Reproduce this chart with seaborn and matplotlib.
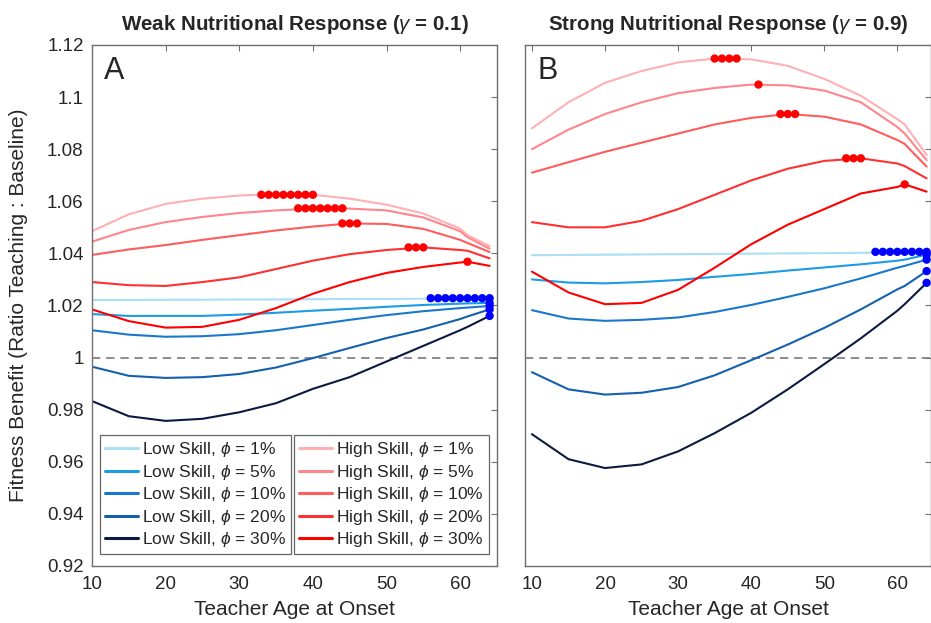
import numpy as np
import pandas as pd
import seaborn as sns
import matplotlib
matplotlib.use("Agg")
import matplotlib.pyplot as plt
from matplotlib.ticker import FuncFormatter

# teacher age at onset (common grid for every curve)
age = [10, 15, 20, 25, 30, 35, 40, 45, 50, 55, 60, 61, 64]

series_names = ["Low Skill, $\\phi$ = 1%", "Low Skill, $\\phi$ = 5%", "Low Skill, $\\phi$ = 10%",
                "Low Skill, $\\phi$ = 20%", "Low Skill, $\\phi$ = 30%",
                "High Skill, $\\phi$ = 1%", "High Skill, $\\phi$ = 5%", "High Skill, $\\phi$ = 10%",
                "High Skill, $\\phi$ = 20%", "High Skill, $\\phi$ = 30%"]

# panel A, weak nutritional response (gamma = 0.1)
weak_low1 = [1.0221, 1.0221, 1.0222, 1.0222, 1.0223, 1.0223, 1.0224, 1.0225, 1.0225, 1.0226, 1.0227, 1.0227, 1.0228]
weak_low5 = [1.0167, 1.0160, 1.0160, 1.0160, 1.0165, 1.0172, 1.0180, 1.0187, 1.0195, 1.0202, 1.0207, 1.0208, 1.0210]
weak_low10 = [1.0105, 1.0088, 1.0080, 1.0082, 1.0090, 1.0105, 1.0125, 1.0145, 1.0163, 1.0178, 1.0190, 1.0192, 1.0198]
weak_low20 = [0.9965, 0.9930, 0.9922, 0.9925, 0.9937, 0.9962, 0.9998, 1.0037, 1.0075, 1.0108, 1.0148, 1.0158, 1.0185]
weak_low30 = [0.9833, 0.9775, 0.9757, 0.9765, 0.9790, 0.9825, 0.9880, 0.9925, 0.9985, 1.0045, 1.0105, 1.0118, 1.0160]
weak_high1 = [1.0485, 1.0550, 1.0590, 1.0610, 1.0622, 1.0628, 1.0625, 1.0610, 1.0587, 1.0553, 1.0495, 1.0470, 1.0428]
weak_high5 = [1.0445, 1.0490, 1.0520, 1.0540, 1.0555, 1.0565, 1.0572, 1.0572, 1.0565, 1.0538, 1.0485, 1.0462, 1.0418]
weak_high10 = [1.0394, 1.0415, 1.0432, 1.0452, 1.0470, 1.0488, 1.0503, 1.0515, 1.0513, 1.0494, 1.0452, 1.0440, 1.0405]
weak_high20 = [1.0290, 1.0278, 1.0275, 1.0290, 1.0308, 1.0340, 1.0372, 1.0397, 1.0413, 1.0423, 1.0413, 1.0410, 1.0381]
weak_high30 = [1.0185, 1.0140, 1.0115, 1.0118, 1.0145, 1.0190, 1.0245, 1.0290, 1.0325, 1.0348, 1.0365, 1.0368, 1.0352]

# panel B, strong nutritional response (gamma = 0.9)
strong_low1 = [1.0393, 1.0394, 1.0395, 1.0396, 1.0397, 1.0398, 1.0399, 1.0400, 1.0401, 1.0402, 1.0404, 1.0404, 1.0406]
strong_low5 = [1.0300, 1.0288, 1.0285, 1.0290, 1.0298, 1.0310, 1.0321, 1.0334, 1.0346, 1.0358, 1.0372, 1.0376, 1.0395]
strong_low10 = [1.0182, 1.0150, 1.0141, 1.0145, 1.0154, 1.0175, 1.0202, 1.0233, 1.0266, 1.0304, 1.0345, 1.0352, 1.0376]
strong_low20 = [0.9944, 0.9878, 0.9858, 0.9865, 0.9887, 0.9932, 0.9990, 1.0050, 1.0114, 1.0185, 1.0262, 1.0275, 1.0332]
strong_low30 = [0.9706, 0.9610, 0.9576, 0.9590, 0.9640, 0.9710, 0.9788, 0.9878, 0.9975, 1.0074, 1.0180, 1.0205, 1.0287]
strong_high1 = [1.0880, 1.0980, 1.1055, 1.1100, 1.1133, 1.1148, 1.1145, 1.1120, 1.1070, 1.1005, 1.0915, 1.0895, 1.0778]
strong_high5 = [1.0800, 1.0875, 1.0935, 1.0980, 1.1015, 1.1035, 1.1048, 1.1045, 1.1025, 1.0980, 1.0885, 1.0860, 1.0758]
strong_high10 = [1.0710, 1.0750, 1.0790, 1.0825, 1.0860, 1.0895, 1.0920, 1.0935, 1.0925, 1.0895, 1.0835, 1.0820, 1.0733]
strong_high20 = [1.0520, 1.0500, 1.0500, 1.0525, 1.0570, 1.0625, 1.0680, 1.0725, 1.0755, 1.0765, 1.0745, 1.0735, 1.0688]
strong_high30 = [1.0330, 1.0250, 1.0205, 1.0210, 1.0260, 1.0345, 1.0435, 1.0510, 1.0570, 1.0630, 1.0655, 1.0665, 1.0637]

# optimal onset ages (the dots) and the benefit there
weak_opt_ages = [list(range(56, 65)), [64], [64], [64], [64],
                 list(range(33, 41)), list(range(38, 45)), [44, 45, 46], [53, 54, 55], [61]]
weak_opt_vals = [1.0228, 1.0210, 1.0198, 1.0185, 1.0160, 1.0625, 1.0573, 1.0515, 1.0423, 1.0368]
strong_opt_ages = [list(range(57, 65)), [64], [64], [64], [64],
                   [35, 36, 37, 38], [41], [44, 45, 46], [53, 54, 55], [61]]
strong_opt_vals = [1.0406, 1.0395, 1.0376, 1.0332, 1.0287, 1.1148, 1.1048, 1.0935, 1.0765, 1.0665]

yticks = [0.92, 0.94, 0.96, 0.98, 1.00, 1.02, 1.04, 1.06, 1.08, 1.10, 1.12]
xticks = [10, 20, 30, 40, 50, 60]

colors = ["#aadff6", "#1c9be6", "#1a78cc", "#1560ad", "#0b1a40",
          "#ffb0b5", "#ff858c", "#ff5c5c", "#ff3030", "#ff0000"]

weak = [weak_low1, weak_low5, weak_low10, weak_low20, weak_low30,
        weak_high1, weak_high5, weak_high10, weak_high20, weak_high30]
strong = [strong_low1, strong_low5, strong_low10, strong_low20, strong_low30,
          strong_high1, strong_high5, strong_high10, strong_high20, strong_high30]

rows = []
dots = []
for panel, curves, opt_a, opt_v in [("A", weak, weak_opt_ages, weak_opt_vals),
                                    ("B", strong, strong_opt_ages, strong_opt_vals)]:
    for name, vals, oa, ov in zip(series_names, curves, opt_a, opt_v):
        for a, v in zip(age, vals):
            rows.append((panel, name, a, v))
        for a in oa:
            dots.append((panel, name, a, ov))
df = pd.DataFrame(rows, columns=["panel", "series", "age", "benefit"])
dots_df = pd.DataFrame(dots, columns=["panel", "series", "age", "benefit"])
dots_df["skill"] = np.where(dots_df["series"].str.startswith("Low"), "low", "high")

sns.set_theme(style="white")
plt.rcParams["font.family"] = ["Liberation Sans", "DejaVu Sans"]
plt.rcParams["mathtext.fontset"] = "custom"
plt.rcParams["mathtext.rm"] = "Liberation Sans"
plt.rcParams["mathtext.it"] = "Liberation Sans:italic"

fig = plt.figure(figsize=(9.31, 6.23), dpi=100)
ax_a = fig.add_axes([0.0988, 0.0915, 0.435, 0.8363])
ax_b = fig.add_axes([0.5639, 0.0915, 0.4361, 0.8363])

titles = ["Weak Nutritional Response ($\\gamma$ = 0.1)", "Strong Nutritional Response ($\\gamma$ = 0.9)"]
palette = dict(zip(series_names, colors))

for ax, panel, title in [(ax_a, "A", titles[0]), (ax_b, "B", titles[1])]:
    ax.axhline(1.0, color="#7a7a7a", lw=1.2, ls=(0, (5, 3.5)), zorder=1)
    sns.lineplot(data=df[df.panel == panel], x="age", y="benefit", hue="series",
                 hue_order=series_names, palette=palette, linewidth=1.5,
                 ax=ax, legend=(panel == "A"), zorder=2)
    sns.scatterplot(data=dots_df[dots_df.panel == panel], x="age", y="benefit", hue="skill",
                    palette={"low": "#0000ff", "high": "#ff0000"}, s=36, linewidth=0,
                    ax=ax, legend=False, zorder=3)
    ax.set_ylim(0.92, 1.12)
    ax.set_yticks(yticks)
    ax.set_xticks(xticks)
    ax.tick_params(direction="in", length=4, width=0.8, color="#707070",
                   top=True, right=True, labelsize=13.5, pad=7)
    for sp in ax.spines.values():
        sp.set_color("#707070")
        sp.set_linewidth(1.0)
    ax.set_xlabel("Teacher Age at Onset", fontsize=15, labelpad=5)
    ax.set_title(title, fontsize=14.8, fontweight="bold", pad=11)
    ax.text(0.03, 0.978, panel, transform=ax.transAxes, fontsize=22, ha="left", va="top")

ax_a.set_xlim(10, 65)
ax_b.set_xlim(9.05, 64.6)
ax_a.yaxis.set_major_formatter(FuncFormatter(lambda v, p: "{:g}".format(round(v, 2))))
ax_a.tick_params(axis="y", pad=6)
ax_a.set_ylabel("Fitness Benefit (Ratio Teaching : Baseline)", fontsize=15, labelpad=14)
ax_b.set_ylabel("")
ax_b.set_yticklabels([])

handles, labels = ax_a.get_legend_handles_labels()
ax_a.get_legend().remove()
leg_kw = dict(loc="upper left", fontsize=12.5, frameon=True, fancybox=False,
              edgecolor="#666666", framealpha=1, borderaxespad=0, handlelength=1.9,
              handletextpad=0.2, labelspacing=0.2, borderpad=0.3)
leg1 = ax_a.legend(handles[:5], labels[:5], bbox_to_anchor=(0.02, 0.2514), **leg_kw)
ax_a.add_artist(leg1)
ax_a.legend(handles[5:], labels[5:], bbox_to_anchor=(0.499, 0.2514), **leg_kw)
for leg in ax_a.get_legend(), leg1:
    leg.get_frame().set_linewidth(0.9)
    for h in leg.legend_handles:
        h.set_linewidth(2.2)

fig.savefig("out.png", dpi=100)
